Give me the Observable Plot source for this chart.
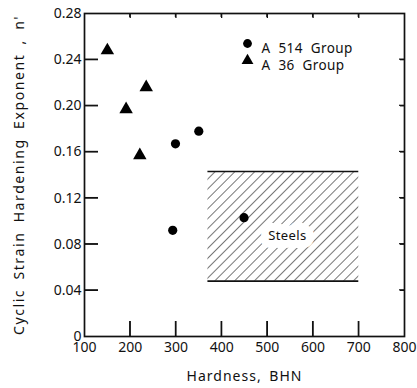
<!DOCTYPE html>
<html>
<head>
<meta charset="utf-8">
<script src="https://cdn.jsdelivr.net/npm/d3@7"></script>
<script src="https://cdn.jsdelivr.net/npm/@observablehq/plot@0.6"></script>
<style>
  body { margin: 0; }
  #chart { font-family: "DejaVu Sans", sans-serif; color: #111; }
  #chart [aria-label="y-axis label"] text { letter-spacing: 1.6px; word-spacing: 4px; }
  #chart [aria-label="x-axis label"] text { letter-spacing: 1px; word-spacing: 3px; }
</style>
</head>
<body>
<div id="chart"></div>
<script>
// Data
const a514Hardness = [299, 350, 293, 449];
const a514N = [0.167, 0.178, 0.092, 0.103];
const a36Hardness = [150, 191, 235, 221];
const a36N = [0.248, 0.197, 0.216, 0.157];

const steelsHardness = [370, 700];
const steelsN = [0.048, 0.143];
const steelsLabel = ["Steels"];

const xTicks = [100, 200, 300, 400, 500, 600, 700, 800];
const yTicks = [0, 0.04, 0.08, 0.12, 0.16, 0.20, 0.24, 0.28];
const legendLabels = ["A 514 Group", "A 36 Group"];
const xLabel = "Hardness, BHN";
const yLabel = "Cyclic Strain Hardening Exponent , n'";

const W = 417, H = 388;
const mL = 84, mR = 13, mT = 13, mB = 52;
const plotW = W - mL - mR, plotH = H - mT - mB;
const xDom = [xTicks[0], xTicks[xTicks.length - 1]];
const yDom = [yTicks[0], yTicks[yTicks.length - 1]];
// pixel lengths converted to data units (for inward tick marks)
const pxX = (xDom[1] - xDom[0]) / plotW;
const pxY = (yDom[1] - yDom[0]) / plotH;

const a514 = a514Hardness.map((h, i) => ({h, n: a514N[i]}));
const a36 = a36Hardness.map((h, i) => ({h, n: a36N[i]}));
const steels = [{x1: steelsHardness[0], x2: steelsHardness[1], y1: steelsN[0], y2: steelsN[1]}];
const innerX = xTicks.slice(1, -1);
const innerY = yTicks.slice(1, -1);
const noText = () => "";

const chart = Plot.plot({
  width: W,
  height: H,
  marginLeft: mL,
  marginRight: mR,
  marginTop: mT,
  marginBottom: mB,
  x: {domain: xDom},
  y: {domain: yDom},
  marks: [
    // hatched steels region
    Plot.rect(steels, {x1: "x1", x2: "x2", y1: "y1", y2: "y2", fill: "url(#hatch)"}),
    Plot.ruleY([steelsN[0]], {x1: steelsHardness[0], x2: steelsHardness[1], stroke: "#111", strokeWidth: 1.6}),
    Plot.ruleY([steelsN[1]], {x1: steelsHardness[0], x2: steelsHardness[1], stroke: "#111", strokeWidth: 1.6}),
    Plot.text(steelsLabel, {x: d => (steelsHardness[0] + steelsHardness[1]) / 2 + 9, y: d => (steelsN[0] + steelsN[1]) / 2 - 0.008, text: d => d,
      fill: "#111", stroke: "white", strokeWidth: 16, fontSize: 13}),
    // axes (labels)
    Plot.axisX({ticks: xTicks, tickSize: 0, tickPadding: 6, tickFormat: d => String(d), label: xLabel, labelAnchor: "center", labelOffset: 44, labelArrow: "none", fontSize: 14}),
    Plot.axisY({ticks: yTicks, tickSize: 0, tickPadding: 3, tickFormat: d => d === 0 ? "0" : d.toFixed(2), label: yLabel, labelAnchor: "center", labelOffset: 70, labelArrow: "none", fontSize: 14}),
    // inward tick marks drawn by the axis marks themselves
    Plot.axisY({anchor: "left", ticks: innerY, tickSize: 14, dx: 14, tickFormat: noText, label: null, stroke: "#111", strokeWidth: 1.3}),
    Plot.axisY({anchor: "right", ticks: innerY, tickSize: 5, dx: -5, tickFormat: noText, label: null, stroke: "#111", strokeWidth: 1.3}),
    Plot.axisX({anchor: "bottom", ticks: innerX, tickSize: 15, dy: -15, tickFormat: noText, label: null, stroke: "#111", strokeWidth: 1.3}),
    Plot.axisX({anchor: "top", ticks: innerX, tickSize: 4, dy: 4, tickFormat: noText, label: null, stroke: "#111", strokeWidth: 1.3}),
    // backup: thin filled bars at the same tick positions
    Plot.rect(innerY, {x1: xDom[0], x2: xDom[0] + 14 * pxX, y1: d => d - 0.6 * pxY, y2: d => d + 0.6 * pxY, fill: "#111"}),
    Plot.rect(innerY, {x1: xDom[1] - 5 * pxX, x2: xDom[1], y1: d => d - 0.6 * pxY, y2: d => d + 0.6 * pxY, fill: "#111"}),
    Plot.rect(innerX, {x1: d => d - 0.6 * pxX, x2: d => d + 0.6 * pxX, y1: yDom[0], y2: yDom[0] + 15 * pxY, fill: "#111"}),
    Plot.rect(innerX, {x1: d => d - 0.6 * pxX, x2: d => d + 0.6 * pxX, y1: yDom[1] - 4 * pxY, y2: yDom[1], fill: "#111"}),
    Plot.frame({stroke: "#111", strokeWidth: 1.7}),
    // data
    Plot.dot(a514, {x: "h", y: "n", symbol: "circle", r: 4.6, fill: "#000", stroke: "none"}),
    Plot.dot(a36, {x: "h", y: "n", symbol: "triangle", r: 5, fill: "#000", stroke: "none"}),
    // legend
    Plot.dot([legendLabels[0]], {x: null, y: null, frameAnchor: "top-left", dx: 163, dy: 30, symbol: "circle", r: 4.4, fill: "#000", stroke: "none"}),
    Plot.dot([legendLabels[1]], {x: null, y: null, frameAnchor: "top-left", dx: 163, dy: 47, symbol: "triangle", r: 4.4, fill: "#000", stroke: "none"}),
    Plot.text([legendLabels[0]], {x: null, y: null, frameAnchor: "top-left", dx: 177, dy: 30, text: d => d, textAnchor: "start", fontSize: 13.5, fill: "#111"}),
    Plot.text([legendLabels[1]], {x: null, y: null, frameAnchor: "top-left", dx: 177, dy: 47, text: d => d, textAnchor: "start", fontSize: 13.5, fill: "#111"})
  ]
});

// hatch pattern defined inside the chart's own SVG
const defs = d3.select(chart).insert("defs", ":first-child");
const pat = defs.append("pattern")
  .attr("id", "hatch")
  .attr("patternUnits", "userSpaceOnUse")
  .attr("width", 7).attr("height", 7)
  .attr("patternTransform", "rotate(45)");
pat.append("line").attr("x1", 0).attr("y1", 0).attr("x2", 0).attr("y2", 7)
  .attr("stroke", "#1a1a1a").attr("stroke-width", 1.2);

d3.select(chart).selectAll("g[aria-label='text'] text")
  .style("word-spacing", "4px").style("letter-spacing", "0.4px");

document.getElementById("chart").appendChild(chart);
</script>
</body>
</html>
